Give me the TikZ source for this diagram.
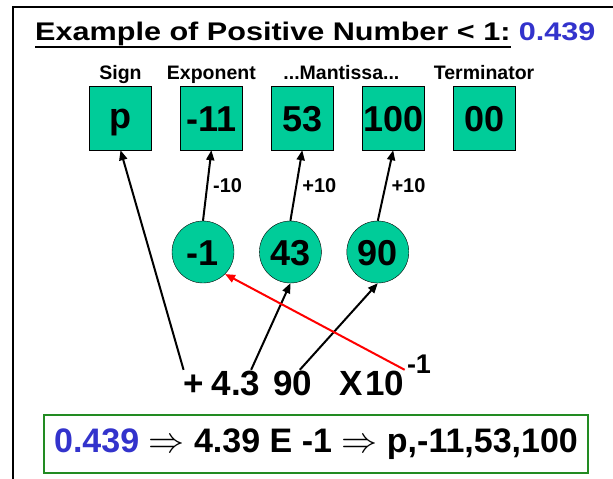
\documentclass[tikz,border=0pt]{standalone}
\usepackage{fontspec}
\setmainfont{Liberation Sans}
\newfontfamily\widefont{Liberation Sans}[FakeStretch=1.2]
\usepackage{xcolor}
\usepackage{graphicx}
\usepackage{tikz}
\usetikzlibrary{calc, positioning, arrows.meta}
\definecolor{cell}{RGB}{0,204,153}
\definecolor{num}{RGB}{51,51,204}
\definecolor{greenline}{RGB}{34,139,34}
\newcommand{\impl}{\resizebox{36pt}{!}{$\Rightarrow$}}

\begin{document}
\begin{tikzpicture}[
    x=1pt, y=-1pt,
    font=\bfseries,
    cellbox/.style={
        draw, fill=cell, minimum width=62pt, minimum height=64pt,
        inner sep=0pt, text height=26pt, text depth=0pt,
        font=\fontsize{36}{40}\selectfont\bfseries
      },
    digit/.style={
        draw, circle, fill=cell, minimum size=62pt, inner sep=0pt,
        text height=26pt, text depth=0pt,
        font=\fontsize{36}{40}\selectfont\bfseries
      },
    fieldname/.style={anchor=base, inner sep=0pt, font=\fontsize{19.5}{22}\selectfont\bfseries},
    term/.style={
        anchor=base, inner sep=0pt, text height=25pt, text depth=0pt,
        font=\fontsize{35}{40}\selectfont\bfseries
      },
    biaslbl/.style={right=3pt, inner sep=2pt, font=\fontsize{20}{22}\selectfont\bfseries},
    link/.style={-{Triangle[length=10pt, width=8pt]}, line width=2pt},
    node distance=28.5pt
  ]

  \useasboundingbox (0,0) rectangle (613,479);
  \draw[line width=2pt] (13,479) -- (13,7) -- (613,7);

  % title
  \node[anchor=base west, inner sep=0pt, font=\widefont\fontsize{25.5}{30}\selectfont\bfseries] (title) at (35,40)
  {Example of Positive Number < 1:};
  \node[anchor=base west, inner sep=0pt, text=num, font=\widefont\fontsize{25.5}{30}\selectfont\bfseries] (titlenum)
  at ([xshift=8pt]title.base east) {0.439};
  \draw[line width=2pt] ([yshift=-7pt]title.base west) -- ([yshift=-7pt]title.base east);

  % fields
  \node[cellbox, text height=24pt, text depth=3pt] (sgn) at (120.5,118) {p};
  \node[cellbox, right=of sgn] (expo) {-11};
  \node[cellbox, right=of expo] (man1) {53};
  \node[cellbox, right=of man1] (man2) {100};
  \node[cellbox, right=of man2] (stop) {00};

  \node[fieldname] (signlbl) at ([yshift=6pt]sgn.north) {Sign};
  \node[fieldname] (expolbl) at ([yshift=6pt]expo.north) {Exponent};
  \node[fieldname] (manlbl) at ([yshift=6pt]$(man1.north)!0.43!(man2.north)$) {...Mantissa...};
  \node[fieldname] (stoplbl) at ([yshift=6pt]stop.north) {Terminator};

  % digit pairs
  \node[digit] (d1) at (203,252) {-1};
  \node[digit, right=25pt of d1] (d2) {43};
  \node[digit, right=25pt of d2] (d3) {90};

  \draw[link] (d1.north) -- node[biaslbl] {-10} (expo.south);
  \draw[link] (d2.north) -- node[biaslbl] {+10} (man1.south);
  \draw[link] (d3.north) -- node[biaslbl] {+10} (man2.south);

  % scientific form
  \node[term] (plus) at (194,395) {+};
  \node[term] (lead) at (236,395) {4.3};
  \node[term] (tail) at (292.5,395) {90};
  \node[term] (times) at (351,395) {X};
  \node[term] (ten) at (385,395) {10};
  \node[term, text height=19pt, font=\fontsize{27}{30}\selectfont\bfseries] (pow) at (419,373) {-1};

  \draw[link] (plus.north west) -- (sgn.south);
  \draw[link] (lead.40) -- (d2.south);
  \draw[link] (tail.60) -- (d3.south);
  \draw[link, red] (ten.north east) -- (d1.-45);

  \node[draw=greenline, line width=2pt, minimum width=544pt, minimum height=58pt, inner sep=0pt,
    font=\fontsize{34}{38}\selectfont\bfseries] (result) at (316,444)
  {\textcolor{num}{0.439} \impl{} 4.39 E -1 \impl{} p,-11,53,100};

\end{tikzpicture}
\end{document}
